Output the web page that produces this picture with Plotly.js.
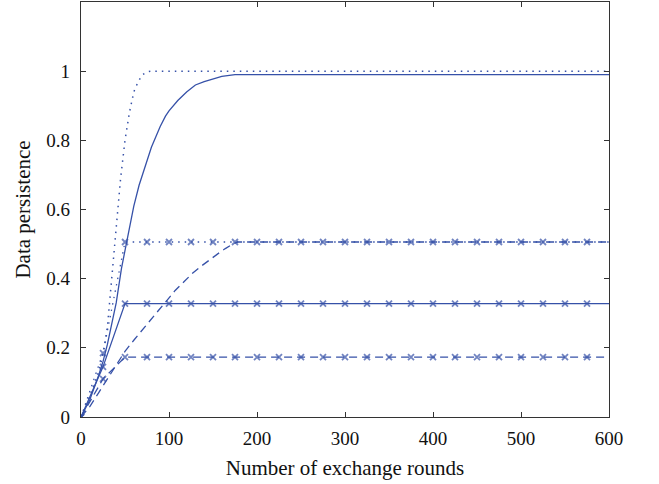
<!DOCTYPE html>
<html>
<head>
<meta charset="utf-8">
<script src="https://cdn.plot.ly/plotly-3.0.1.min.js"></script>
<style>html,body{margin:0;padding:0;background:#fff;}#chart{width:659px;height:484px;}</style>
</head>
<body>
<div id="chart"></div>
<script>
// Dotted curve (no markers)
const xA = [0, 10, 20, 25, 30, 35, 40, 45, 50, 55, 60, 65, 70, 75, 80, 600];
const yA = [0, 0.06, 0.13, 0.18, 0.26, 0.41, 0.55, 0.69, 0.80, 0.88, 0.94, 0.97, 0.99, 0.998, 1.0, 1.0];
// Solid curve (no markers)
const xB = [0, 10, 20, 25, 30, 40, 46, 52, 60, 66, 72, 80, 90, 96, 100, 110, 120, 130, 140, 150, 160, 175, 600];
const yB = [0, 0.05, 0.12, 0.16, 0.21, 0.33, 0.43, 0.51, 0.61, 0.67, 0.72, 0.78, 0.84, 0.87, 0.885, 0.915, 0.94, 0.96, 0.97, 0.978, 0.985, 0.99, 0.99];
// Dashed curve (no markers)
const xF = [0, 10, 20, 31, 40, 50, 60, 69, 78, 88, 98, 107, 117, 126, 136, 145, 155, 164, 171, 178, 600];
const yF = [0, 0.03, 0.07, 0.114, 0.152, 0.19, 0.222, 0.25, 0.28, 0.308, 0.338, 0.366, 0.391, 0.414, 0.435, 0.453, 0.471, 0.487, 0.498, 0.506, 0.506];
// Marker curves, sampled every 25 rounds
const xM = [0, 25, 50, 75, 100, 125, 150, 175, 200, 225, 250, 275, 300, 325, 350, 375, 400, 425, 450, 475, 500, 525, 550, 575, 600];
const yC = [0, 0.185, 0.506, 0.506, 0.506, 0.506, 0.506, 0.506, 0.506, 0.506, 0.506, 0.506, 0.506, 0.506, 0.506, 0.506, 0.506, 0.506, 0.506, 0.506, 0.506, 0.506, 0.506, 0.506, 0.506];
const yD = [0, 0.145, 0.328, 0.328, 0.328, 0.328, 0.328, 0.328, 0.328, 0.328, 0.328, 0.328, 0.328, 0.328, 0.328, 0.328, 0.328, 0.328, 0.328, 0.328, 0.328, 0.328, 0.328, 0.328, 0.328];
const yE = [0, 0.11, 0.173, 0.173, 0.173, 0.173, 0.173, 0.173, 0.173, 0.173, 0.173, 0.173, 0.173, 0.173, 0.173, 0.173, 0.173, 0.173, 0.173, 0.173, 0.173, 0.173, 0.173, 0.173, 0.173];

const xTicks = [0, 100, 200, 300, 400, 500, 600];
const yTicks = [0, 0.2, 0.4, 0.6, 0.8, 1];
const yTickText = ['0', '0.2', '0.4', '0.6', '0.8', '1'];

const blue = '#3651a8';
const msize = xM.map((v, i) => i === xM.length - 1 ? 0 : 6);

function markerTrace(y, dash) {
  return {
    x: xM, y: y, mode: 'lines+markers', type: 'scatter',
    line: {color: blue, width: 1.3, dash: dash},
    marker: {symbol: 'x-thin', size: msize, color: blue, line: {color: blue, width: 1.8}},
    showlegend: false, hoverinfo: 'skip'
  };
}

const data = [
  {x: xA, y: yA, mode: 'lines', type: 'scatter', line: {color: blue, width: 1.5, dash: '1.5px,5px'}, showlegend: false},
  {x: xB, y: yB, mode: 'lines', type: 'scatter', line: {color: blue, width: 1.3}, showlegend: false},
  {x: xF, y: yF, mode: 'lines', type: 'scatter', line: {color: blue, width: 1.3, dash: '8px,5px'}, showlegend: false},
  markerTrace(yC, '1.5px,5px'),
  markerTrace(yD, 'solid'),
  markerTrace(yE, '8px,5px')
];

const tickFont = {family: 'Liberation Serif, Times New Roman, serif', size: 19, color: '#111'};
const titleFont = {family: 'Liberation Serif, Times New Roman, serif', size: 21, color: '#111'};

const layout = {
  width: 659, height: 484,
  margin: {l: 81, r: 50, t: 2, b: 67},
  paper_bgcolor: '#fff', plot_bgcolor: '#fff',
  font: tickFont,
  xaxis: {
    range: [0, 600], tickvals: xTicks, ticks: 'inside', ticklen: 5, tickcolor: '#333',
    showline: true, linecolor: '#333', linewidth: 1.2, mirror: 'ticks',
    showgrid: false, zeroline: false, tickfont: tickFont, ticklabelstandoff: 4,
    title: {text: 'Number of exchange rounds', font: titleFont, standoff: 12}
  },
  yaxis: {
    range: [0, 1.2], tickvals: yTicks, ticktext: yTickText, ticks: 'inside', ticklen: 5, tickcolor: '#333',
    showline: true, linecolor: '#333', linewidth: 1.2, mirror: 'ticks',
    showgrid: false, zeroline: false, tickfont: tickFont, ticklabelstandoff: 6,
    title: {text: 'Data persistence', font: titleFont, standoff: 10}
  }
};

Plotly.newPlot('chart', data, layout, {displayModeBar: false, staticPlot: true});
</script>
</body>
</html>
